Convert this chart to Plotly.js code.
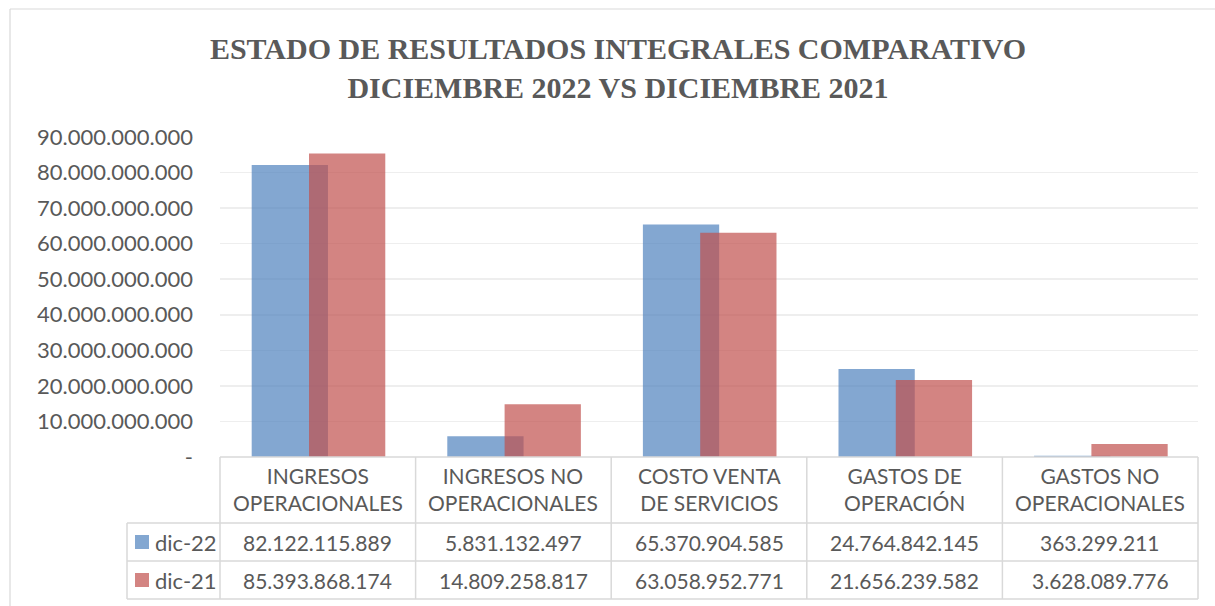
<!DOCTYPE html>
<html>
<head>
<meta charset="utf-8">
<script src="https://cdn.plot.ly/plotly-3.0.1.min.js"></script>
<style>
  html, body { margin: 0; padding: 0; background: #ffffff; }
  #chart { width: 1215px; height: 606px; }
</style>
</head>
<body>
<div id="chart"></div>
<script>
// ---- data ----
const categories = [
  'INGRESOS<br>OPERACIONALES',
  'INGRESOS NO<br>OPERACIONALES',
  'COSTO VENTA<br>DE SERVICIOS',
  'GASTOS DE<br>OPERACIÓN',
  'GASTOS NO<br>OPERACIONALES'
];
const seriesNames = ['dic-22', 'dic-21'];
const dic22 = [82122115889, 5831132497, 65370904585, 24764842145, 363299211];
const dic21 = [85393868174, 14809258817, 63058952771, 21656239582, 3628089776];
const yTickValues = [0, 10e9, 20e9, 30e9, 40e9, 50e9, 60e9, 70e9, 80e9, 90e9];
const yTickLabels = ['-', '10.000.000.000', '20.000.000.000', '30.000.000.000', '40.000.000.000',
  '50.000.000.000', '60.000.000.000', '70.000.000.000', '80.000.000.000', '90.000.000.000'];
const title = 'ESTADO DE RESULTADOS INTEGRALES COMPARATIVO<br>DICIEMBRE 2022 VS DICIEMBRE 2021';

// ---- styling ----
const blue = '#4F81BD';
const red = '#C0504D';
const textColor = '#595959';
const borderColor = '#d9d9d9';
const bodyFont = 'Lato, "Open Sans", sans-serif';

function fmt(v) {
  return Math.round(v).toString().replace(/\B(?=(\d{3})+(?!\d))/g, '.');
}

const W = 1215, H = 606;
const M = { l: 220, r: 17, t: 137, b: 149 };
const pw = W - M.l - M.r, ph = H - M.t - M.b;
const px2x = p => (p - M.l) / pw;
const px2y = p => (H - M.b - p) / ph;

const traces = [
  { type: 'bar', name: seriesNames[0], x: categories, y: dic22,
    width: 0.39, offset: -0.338,
    marker: { color: blue, opacity: 0.7 }, hoverinfo: 'x+y' },
  { type: 'bar', name: seriesNames[1], x: categories, y: dic21,
    width: 0.39, offset: -0.045,
    marker: { color: red, opacity: 0.7 }, hoverinfo: 'x+y' }
];

const n = categories.length;
const shapes = [];
const annotations = [];
const line = { color: borderColor, width: 1.5 };

// table geometry (pixels)
const yHeadTop = 457, yRow1 = 523, yRow2 = 561, yBottom = 599;
const xLegLeft = 127;

// horizontal lines
shapes.push({ type: 'line', xref: 'paper', yref: 'paper', x0: 0, x1: 1, y0: px2y(yHeadTop), y1: px2y(yHeadTop), line });
[yRow1, yRow2, yBottom].forEach(py => {
  shapes.push({ type: 'line', xref: 'paper', yref: 'paper', x0: px2x(xLegLeft), x1: 1, y0: px2y(py), y1: px2y(py), line });
});
// vertical lines
for (let k = 0; k <= n; k++) {
  shapes.push({ type: 'line', xref: 'paper', yref: 'paper', x0: k / n, x1: k / n, y0: px2y(yHeadTop), y1: px2y(yBottom), line });
}
shapes.push({ type: 'line', xref: 'paper', yref: 'paper', x0: px2x(xLegLeft), x1: px2x(xLegLeft), y0: px2y(yRow1), y1: px2y(yBottom), line });

// outer chart border
shapes.push({ type: 'line', xref: 'paper', yref: 'paper', x0: px2x(10), x1: px2x(1230), y0: px2y(9), y1: px2y(9), line: { color: borderColor, width: 1.2 } });
shapes.push({ type: 'line', xref: 'paper', yref: 'paper', x0: px2x(10), x1: px2x(10), y0: px2y(9), y1: px2y(620), line: { color: borderColor, width: 1.2 } });

// header labels
categories.forEach((c, i) => {
  annotations.push({ xref: 'paper', yref: 'paper', x: (i + 0.5) / n, y: px2y(489),
    text: c, showarrow: false, xanchor: 'center', yanchor: 'middle',
    font: { family: bodyFont, size: 21, color: textColor } });
});
// data rows
const rows = [dic22, dic21];
const rowCenters = [542, 580];
const rowColors = [blue, red];
rows.forEach((vals, r) => {
  vals.forEach((v, i) => {
    annotations.push({ xref: 'paper', yref: 'paper', x: (i + 0.5) / n, y: px2y(rowCenters[r]),
      text: fmt(v), showarrow: false, xanchor: 'center', yanchor: 'middle',
      font: { family: bodyFont, size: 21, color: textColor } });
  });
  // legend key
  shapes.push({ type: 'rect', xref: 'paper', yref: 'paper',
    x0: px2x(135), x1: px2x(149), y0: px2y(rowCenters[r] - 7), y1: px2y(rowCenters[r] + 7),
    fillcolor: rowColors[r], opacity: 0.7, line: { width: 0 } });
  annotations.push({ xref: 'paper', yref: 'paper', x: px2x(153), y: px2y(rowCenters[r]),
    text: seriesNames[r], showarrow: false, xanchor: 'left', yanchor: 'middle',
    font: { family: bodyFont, size: 22, color: textColor } });
});

const layout = {
  width: W, height: H,
  margin: M,
  paper_bgcolor: '#ffffff', plot_bgcolor: '#ffffff',
  showlegend: false,
  barmode: 'overlay',
  title: {
    text: title,
    font: { family: '"Liberation Serif", serif', size: 30, color: textColor, weight: 'bold' },
    xref: 'container', x: 618 / W, xanchor: 'center',
    yref: 'container', y: 1 - 59 / H, yanchor: 'middle'
  },
  xaxis: {
    type: 'category', range: [-0.5, n - 0.5],
    showticklabels: false, showgrid: false, zeroline: false, showline: false, ticks: ''
  },
  yaxis: {
    range: [0, 90e9],
    tickvals: yTickValues, ticktext: yTickLabels,
    showgrid: true, gridcolor: '#eeeeee', gridwidth: 1.5,
    zeroline: false, showline: false, ticks: '',
    ticklabelstandoff: 26,
    tickfont: { family: bodyFont, size: 22, color: textColor }
  },
  shapes, annotations
};

Plotly.newPlot('chart', traces, layout, { displayModeBar: false, staticPlot: true });
</script>
</body>
</html>
